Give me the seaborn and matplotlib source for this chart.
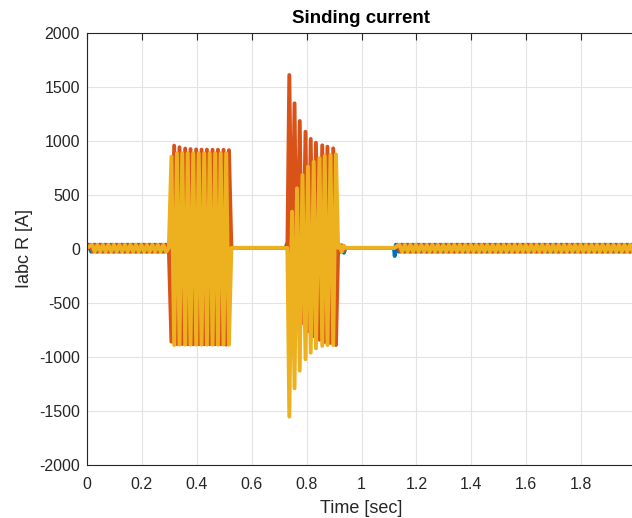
import numpy as np
import pandas as pd
import matplotlib
matplotlib.use("Agg")
import matplotlib.pyplot as plt
import seaborn as sns

# ---------------- data ----------------
phases = ["A", "B", "C"]
phase_colors = ["#0072BD", "#D95319", "#EDB120"]

# steady (idle) ripple: 50 Hz, small three-phase load current
ripple_period = 0.02
ripple_high = 40
ripple_low = -25
ripple_shift = {"A": 0.0, "B": 0.0067, "C": 0.0133}
flat_level = 10
idle1_span = (0.0, 0.298)
idle2_span = (1.12, 2.01)

# fault 1 (0.30 s - 0.53 s): phases B and C
f1_t = [0.298, 0.3075, 0.3175, 0.3275, 0.337, 0.347, 0.3577, 0.367, 0.3771, 0.387,
        0.3978, 0.407, 0.4173, 0.427, 0.4369, 0.447, 0.4573, 0.467, 0.4770, 0.487,
        0.4974, 0.507, 0.5171, 0.526]
f1_B = [10, -858, 957, -880, 942, -880, 930, -882, 925, -882, 922, -882, 920, -882,
        920, -882, 919, -882, 919, -882, 919, -885, 915, 10]
f1_C = [10, 855, -889, 886, -886, 886, -886, 886, -886, 886, -886, 886, -886, 886,
        -886, 886, -886, 886, -886, 886, -886, 886, -886, 10]

# fault 2 (0.73 s - 0.92 s): decaying offset
f2_t = [0.730, 0.737, 0.747, 0.756, 0.765, 0.775, 0.785, 0.796, 0.805, 0.815,
        0.826, 0.834, 0.847, 0.857, 0.866, 0.876, 0.887, 0.897, 0.907, 0.915]
f2_B = [10, 1611, -346, 1349, -562, 1185, -685, 1086, -762, 1019, -808, 984, -840,
        960, -861, 947, -870, 932, -889, 10]
f2_C = [10, -1552, 346, -1290, 562, -1127, 685, -1021, 762, -960, 808, -920, 840,
        -898, 861, -889, 870, -889, 877, 10]
f2_A_t = [0.724, 0.728, 0.732, 0.736]
f2_A = [10, 45, -25, 10]

# after-fault wiggle
w_t = [0.92, 0.928, 0.936, 0.942]
w_A = [10, -10, -35, 10]
w_B = [-30, 35, -15, 10]
w_C = [40, -25, 30, 10]

# reclosing dip of phase A
dip_t = [1.118, 1.121]
dip_A = [10, -65]

xticks = [0, 0.2, 0.4, 0.6, 0.8, 1.0, 1.2, 1.4, 1.6, 1.8, 2.0]
xtick_labels = ["0", "0.2", "0.4", "0.6", "0.8", "1", "1.2", "1.4", "1.6", "1.8", "2"]
yticks = [-2000, -1500, -1000, -500, 0, 500, 1000, 1500, 2000]
ytick_labels = ["-2000", "-1500", "-1000", "-500", "0", "500", "1000", "1500", "2000"]


# ---------------- build vertex tables ----------------
def ripple(span, ph):
    t0, t1 = span
    ts, vs = [], []
    k = 0
    t = t0 + ripple_shift[ph] + 0.005
    while t < t1:
        ts.append(t)
        vs.append(ripple_high if k % 2 == 0 else ripple_low)
        t += ripple_period / 2
        k += 1
    return ts, vs


rows = []
for ph in phases:
    ts, vs = [], []
    a, b = ripple(idle1_span, ph)
    ts += [0.0] + a
    vs += [flat_level] + b
    if ph == "A":
        ts += [0.298, 0.526]
        vs += [flat_level, flat_level]
    elif ph == "B":
        ts += f1_t
        vs += f1_B
    else:
        ts += f1_t
        vs += f1_C
    if ph == "A":
        ts += f2_A_t + [0.915]
        vs += f2_A + [flat_level]
    elif ph == "B":
        ts += f2_t
        vs += f2_B
    else:
        ts += f2_t
        vs += f2_C
    ts += w_t
    vs += {"A": w_A, "B": w_B, "C": w_C}[ph]
    if ph == "A":
        ts += dip_t
        vs += dip_A
    else:
        ts += [1.12]
        vs += [flat_level]
    a, b = ripple(idle2_span, ph)
    ts += a
    vs += b
    for i, (t, v) in enumerate(zip(ts, vs)):
        rows.append({"phase": ph, "order": i, "t": t, "I": v})

df = pd.DataFrame(rows)

# ---------------- plot ----------------
sns.set_style("white")
plt.rcParams["font.family"] = ["Liberation Sans", "DejaVu Sans"]
plt.rcParams["axes.unicode_minus"] = False

fig = plt.figure(figsize=(6.32, 5.18), dpi=100)
ax = fig.add_axes([87 / 632, 1 - 465 / 518, 549 / 632, 432 / 518])

sns.lineplot(data=df, x="t", y="I", hue="phase", hue_order=phases,
             palette=phase_colors, estimator=None, sort=False, units="phase",
             linewidth=2.8, legend=False, ax=ax,
             solid_joinstyle="round", solid_capstyle="round")

ax.set_xlim(0, 2)
ax.set_ylim(-2000, 2000)
ax.set_xticks(xticks)
ax.set_xticklabels(xtick_labels)
ax.set_yticks(yticks)
ax.set_yticklabels(ytick_labels)
ax.grid(True, color="#e3e3e3", linewidth=0.8)
ax.set_axisbelow(True)

axis_col = "#262626"
for s in ax.spines.values():
    s.set_color(axis_col)
    s.set_linewidth(0.8)
ax.tick_params(direction="in", length=5, width=0.8, color=axis_col,
               labelsize=11.5, labelcolor=axis_col, top=True, right=False)
ax.tick_params(axis="x", pad=8.5)
ax.tick_params(axis="y", pad=5)

ax.set_xlabel("Time [sec]", fontsize=13, color=axis_col, labelpad=6)
ax.set_ylabel("Iabc R [A]", fontsize=13, color=axis_col, labelpad=4.5)
ax.set_title("Sinding current", fontsize=13.5, fontweight="bold", color="black", pad=7)

fig.savefig("out.png", dpi=100)
